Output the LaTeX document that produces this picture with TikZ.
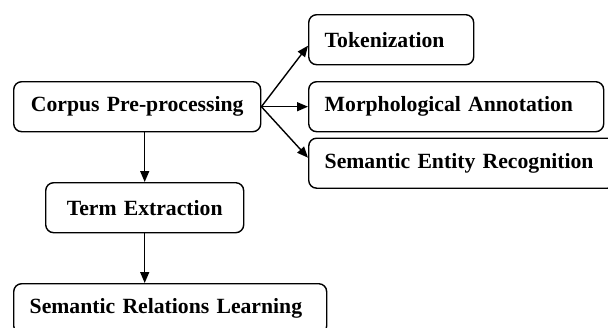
\documentclass[tikz,border=0pt]{standalone}
\usepackage{fontspec}
\setmainfont{Liberation Serif}
\usetikzlibrary{arrows.meta,calc}
\begin{document}
\begin{tikzpicture}[x=1pt,y=-1pt,
  box/.style={draw, line width=1.4pt, rounded corners=8pt, inner ysep=0pt,
    minimum height=50pt, font=\fontsize{21.7}{24}\selectfont\bfseries, anchor=north west},
  lbox/.style={box, align=left, inner xsep=16pt},
  cbox/.style={box, align=center, inner xsep=0pt},
  arr/.style={line width=1.4pt, -{Triangle[length=11pt,width=9pt]}}]
\clip (0,0) rectangle (608,327);
\useasboundingbox (0,0) rectangle (608,327);
\node[cbox, text width=247pt] (corp) at (13,81) {Corpus Pre-processing};
\node[lbox, text width=133pt] (tok) at (308,14) {Tokenization};
\node[lbox, text width=263pt] (morph) at (308,81) {Morphological Annotation};
\node[lbox, text width=275pt] (sem) at (308,137.5) {Semantic Entity Recognition};
\node[cbox, text width=198pt] (term) at (45,182) {Term Extraction};
\node[lbox, text width=281pt] (srl) at (13,283) {Semantic Relations Learning};
\draw[arr] (corp.east) -- ($(tok.west)+(0,6)$);
\draw[arr] (corp.east) -- (morph.west);
\draw[arr] (corp.east) -- ($(sem.west)+(0,-5.5)$);
\draw[arr] (corp.south -| term.north) -- (term.north);
\draw[arr] (term.south) -- (term.south |- srl.north);
\end{tikzpicture}
\end{document}
